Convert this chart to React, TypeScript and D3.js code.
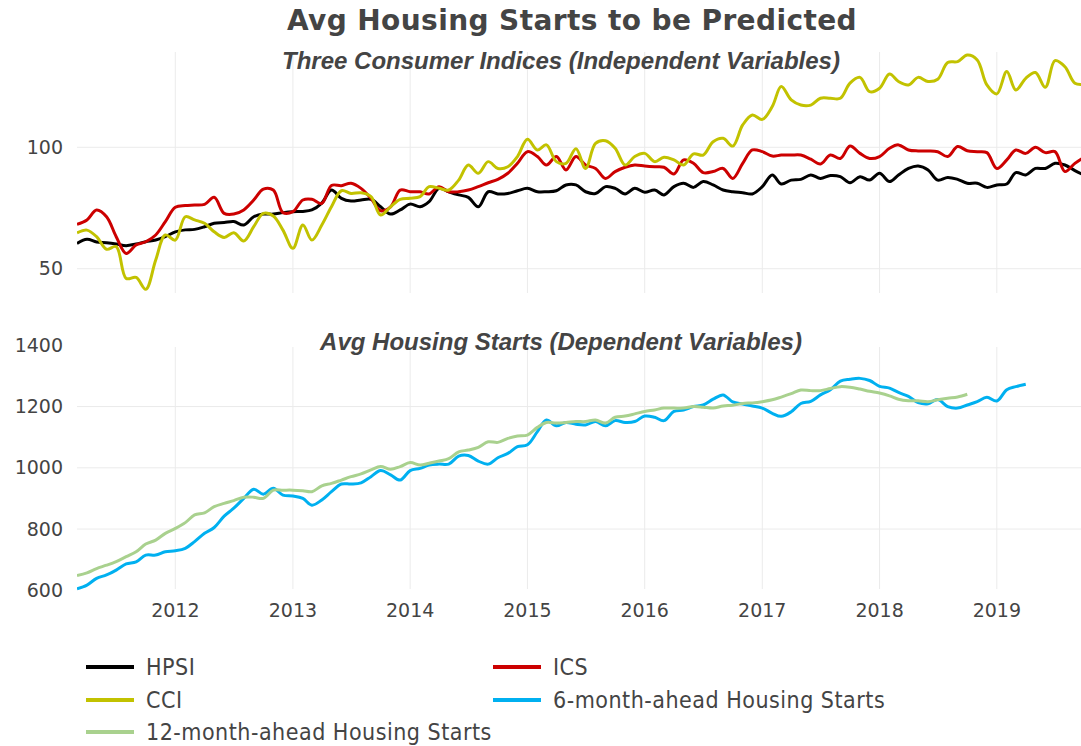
import React from "react";
import * as d3 from "d3";

const W = 1081;
const H = 746;

// Monthly observations, Mar 2011 onward
const MONTHS: Date[] = d3.timeMonth.range(new Date(2011, 2, 1), new Date(2019, 10, 1));

const HPSI = [
  60.4, 62.1, 61, 60.7, 60.2, 59.5, 60.2, 61.1, 61.8, 63.2,
  65.2, 66, 66.2, 67.3, 68.7, 69, 69.4, 68, 71.4, 72.5, 72.5, 73.1,
  73.5, 73.6, 74.2, 77, 82.4, 79, 77.9, 78.3, 78.6, 75.5, 72.5, 74.2,
  76.6, 75.5, 77.6, 83.1, 81.7, 80.4, 79.4, 75.5, 81.7, 80.8, 81, 82.1,
  83.1, 81.7, 81.7, 82.1, 84.5, 84.5, 81.7, 81, 83.8, 83.1, 80.8, 83.1,
  81.5, 82.4, 80.4, 83.8, 85.2, 83.5, 85.9, 84.5, 82.4, 81.7, 81.3, 80.8,
  83.8, 88.6, 84.9, 86.5, 86.8, 88.6, 87.2, 88.4, 87.9, 85.4, 87.9, 86.5,
  89.3, 85.9, 88.6, 91.3, 92.3, 90.7, 86.5, 87.6, 86.8, 85.2, 85.2, 83.5,
  84.5, 84.9, 89.6, 88.6, 91.3, 91.3, 93.4, 92.7, 90.4, 88.5,
];

const ICS = [
  68.3, 70.1, 74.2, 71.4, 63.2, 56.3, 59.8, 61.1, 63.9, 69.4,
  75.3, 76, 76.2, 76.5, 79.4, 72.8, 72.5, 74.2, 78.3, 82.8, 82.4, 73.1,
  73.5, 78.3, 78.6, 76.9, 84.3, 84.2, 85.2, 83.1, 79, 73.9, 75.5, 82.4,
  81.7, 81.7, 80.8, 83.8, 81.7, 81.7, 82.4, 83.8, 85.4, 86.8, 89.3, 93.4,
  98.2, 96.2, 92.7, 96.2, 90.7, 96.2, 92.7, 91.3, 87.2, 90, 91.8, 92.7,
  92.3, 92, 91.8, 89, 94.8, 93.4, 89.6, 90, 91.3, 87.2, 93.4, 98.9,
  98.2, 96.4, 96.8, 96.8, 96.8, 95.1, 93.1, 96.8, 95.4, 100.5, 97.5, 95.4,
  96.2, 99.6, 101, 98.9, 98.5, 98.5, 98.2, 96.2, 100.3, 98.6, 98.2, 97.8,
  91.3, 94.8, 98.9, 97.5, 100, 97.8, 98.2, 90, 93.4, 96,
];

const CCI = [
  64.8, 65.9, 63.2, 58, 59.1, 46, 46.4, 41.5, 53.6, 63.9,
  61.8, 71.4, 70.1, 68.7, 65.2, 62.9, 64.8, 61.4, 67.3, 72.8, 71.7, 65.9,
  58.4, 68, 61.8, 68, 75.5, 82.1, 81, 81.3, 79.7, 72.1, 75.5, 78.6,
  79, 79.7, 83.8, 83.1, 82.4, 86.5, 92.7, 89.3, 94.1, 91.3, 92, 96.2,
  103.3, 98.9, 101, 94.1, 93.4, 99.4, 91.3, 101.6, 102.7, 99.6, 92.7, 96.2,
  97.5, 94.1, 95.9, 94.8, 92.7, 97.3, 96.8, 102.3, 103.7, 100.5, 109.2, 113.3,
  111.5, 116.8, 125, 119.5, 117.4, 117.4, 120.2, 120.2, 120.2, 126.4, 128.8, 122.9,
  124.3, 130.2, 127.1, 125.7, 128.8, 127.1, 128, 134.9, 135.3, 138, 136, 125.7,
  122, 131.2, 123.6, 128.4, 130.8, 124.7, 135.7, 133.2, 126.4, 126,
];

const HS6 = [
  605, 617, 639, 650, 666, 686, 693, 715, 715, 726,
  729, 737, 759, 786, 805, 842, 868, 900, 930, 914, 933, 911,
  908, 900, 878, 895, 922, 947, 947, 951, 971, 991, 977, 960,
  991, 998, 1009, 1012, 1012, 1038, 1040, 1022, 1012, 1033, 1047, 1069,
  1075, 1118, 1156, 1137, 1148, 1142, 1140, 1151, 1137, 1154, 1148, 1151,
  1169, 1165, 1154, 1184, 1189, 1200, 1205, 1224, 1238, 1215, 1208, 1202,
  1195, 1178, 1168, 1183, 1210, 1217, 1238, 1255, 1283, 1289, 1292, 1285,
  1266, 1260, 1246, 1233, 1213, 1209, 1223, 1200, 1195, 1205, 1216, 1230,
  1218, 1255, 1265, 1273,
];

const HS12 = [
  648, 657, 671, 682, 694, 710, 726, 751, 764, 786,
  802, 821, 846, 853, 873, 884, 893, 904, 904, 900, 927, 927,
  927, 925, 922, 941, 949, 960, 971, 980, 993, 1004, 995, 1004,
  1017, 1009, 1015, 1022, 1030, 1052, 1058, 1067, 1085, 1083, 1096, 1104,
  1107, 1132, 1148, 1146, 1148, 1151, 1151, 1156, 1146, 1165, 1169, 1176,
  1184, 1189, 1195, 1195, 1195, 1200, 1198, 1195, 1202, 1204, 1210, 1212,
  1216, 1222, 1231, 1242, 1254, 1252, 1252, 1259, 1265, 1263, 1257, 1250,
  1244, 1235, 1224, 1219, 1219, 1216, 1222, 1227, 1231, 1240,
];

const TOP_TICKS = [50, 100];
const BOT_TICKS = [600, 800, 1000, 1200, 1400];

const SERIES_NAMES = ["HPSI", "ICS", "CCI", "6-month-ahead Housing Starts", "12-month-ahead Housing Starts"];
const SERIES_COLORS = ["#000000", "#cc0000", "#c2c200", "#00b0f0", "#a9d18e"];

const TITLE = "Avg Housing Starts to be Predicted";
const SUB_TOP = "Three Consumer Indices (Independent Variables)";
const SUB_BOT = "Avg Housing Starts (Dependent Variables)";

export default function App() {
  const x = d3
    .scaleTime()
    .domain([new Date(2011, 2, 1), new Date(2019, 8, 20)])
    .range([77, 1081]);
  const yTop = d3.scaleLinear().domain([40, 139.25]).range([293, 52]);
  const yBot = d3.scaleLinear().domain([600, 1400]).range([590.3, 345.3]);

  const years = x.ticks(d3.timeYear.every(1));

  const mk = (vals: number[], y: d3.ScaleLinear<number, number>) =>
    d3
      .line<number>()
      .x((_, i) => x(MONTHS[i]))
      .y((d) => y(d))
      .curve(d3.curveCatmullRom.alpha(0.5))(vals) || "";

  const topSeries = [
    { vals: HPSI, idx: 0 },
    { vals: ICS, idx: 1 },
    { vals: CCI, idx: 2 },
  ];
  const botSeries = [
    { vals: HS6, idx: 3 },
    { vals: HS12, idx: 4 },
  ];

  const tickFont = "'DejaVu Sans', Verdana, sans-serif";
  const gridColor = "#ebebeb";

  const legendPos = [
    { x: 86, y: 667 },
    { x: 493, y: 667 },
    { x: 86, y: 700 },
    { x: 493, y: 700 },
    { x: 86, y: 732 },
  ];

  return (
    <svg
      width={W}
      height={H}
      style={{ position: "absolute", left: 0, top: 0, background: "#fff" }}
    >
      <defs>
        <clipPath id="clipTop">
          <rect x={77} y={40} width={1004} height={260} />
        </clipPath>
        <clipPath id="clipBot">
          <rect x={77} y={330} width={1004} height={270} />
        </clipPath>
      </defs>

      {/* grid: top panel */}
      {years.map((d) => (
        <line key={"vt" + +d} x1={x(d)} x2={x(d)} y1={52} y2={293} stroke={gridColor} strokeWidth={1} />
      ))}
      {TOP_TICKS.map((v) => (
        <line key={"ht" + v} x1={77} x2={1081} y1={yTop(v)} y2={yTop(v)} stroke={gridColor} strokeWidth={1} />
      ))}
      {/* grid: bottom panel */}
      {years.map((d) => (
        <line key={"vb" + +d} x1={x(d)} x2={x(d)} y1={347} y2={589} stroke={gridColor} strokeWidth={1} />
      ))}
      {BOT_TICKS.filter((v) => v > 600 && v < 1400).map((v) => (
        <line key={"hb" + v} x1={77} x2={1081} y1={yBot(v)} y2={yBot(v)} stroke={gridColor} strokeWidth={1} />
      ))}

      {/* y tick labels */}
      {TOP_TICKS.map((v) => (
        <text key={"tl" + v} x={63} y={yTop(v)} dy="0.35em" textAnchor="end" fontFamily={tickFont} fontSize={19} fill="#444">
          {v}
        </text>
      ))}
      {BOT_TICKS.map((v) => (
        <text key={"bl" + v} x={63} y={yBot(v)} dy="0.35em" textAnchor="end" fontFamily={tickFont} fontSize={19} fill="#444">
          {v}
        </text>
      ))}
      {/* x tick labels */}
      {years.map((d) => (
        <text key={"xl" + +d} x={x(d)} y={610} dy="0.35em" textAnchor="middle" fontFamily={tickFont} fontSize={19} fill="#444">
          {d3.timeFormat("%Y")(d)}
        </text>
      ))}

      {/* lines */}
      <g clipPath="url(#clipTop)">
        {topSeries.map((s) => (
          <path key={s.idx} d={mk(s.vals, yTop)} fill="none" stroke={SERIES_COLORS[s.idx]} strokeWidth={3} strokeLinejoin="round" />
        ))}
      </g>
      <g clipPath="url(#clipBot)">
        {botSeries.map((s) => (
          <path key={s.idx} d={mk(s.vals, yBot)} fill="none" stroke={SERIES_COLORS[s.idx]} strokeWidth={3} strokeLinejoin="round" />
        ))}
      </g>

      {/* titles */}
      <text x={572} y={20} dy="0.35em" textAnchor="middle" fontFamily={tickFont} fontWeight="bold" fontSize={28} letterSpacing={0.4} fill="#444">
        {TITLE}
      </text>
      <text x={561} y={61} dy="0.35em" textAnchor="middle" fontFamily="'Liberation Sans', Arial, sans-serif" fontWeight="bold" fontStyle="italic" fontSize={24} fill="#444">
        {SUB_TOP}
      </text>
      <text x={561} y={342} dy="0.35em" textAnchor="middle" fontFamily="'Liberation Sans', Arial, sans-serif" fontWeight="bold" fontStyle="italic" fontSize={24} fill="#444">
        {SUB_BOT}
      </text>

      {/* legend */}
      {SERIES_NAMES.map((name, i) => (
        <g key={name} transform={`translate(${legendPos[i].x},${legendPos[i].y})`}>
          <line x1={0} x2={48} y1={0} y2={0} stroke={SERIES_COLORS[i]} strokeWidth={4} />
          <text x={60} y={0} dy="0.35em" fontFamily="'DejaVu Sans Condensed', 'DejaVu Sans', sans-serif" fontStretch="condensed" fontSize={23} letterSpacing={0.5} fill="#444">
            {name}
          </text>
        </g>
      ))}
    </svg>
  );
}
